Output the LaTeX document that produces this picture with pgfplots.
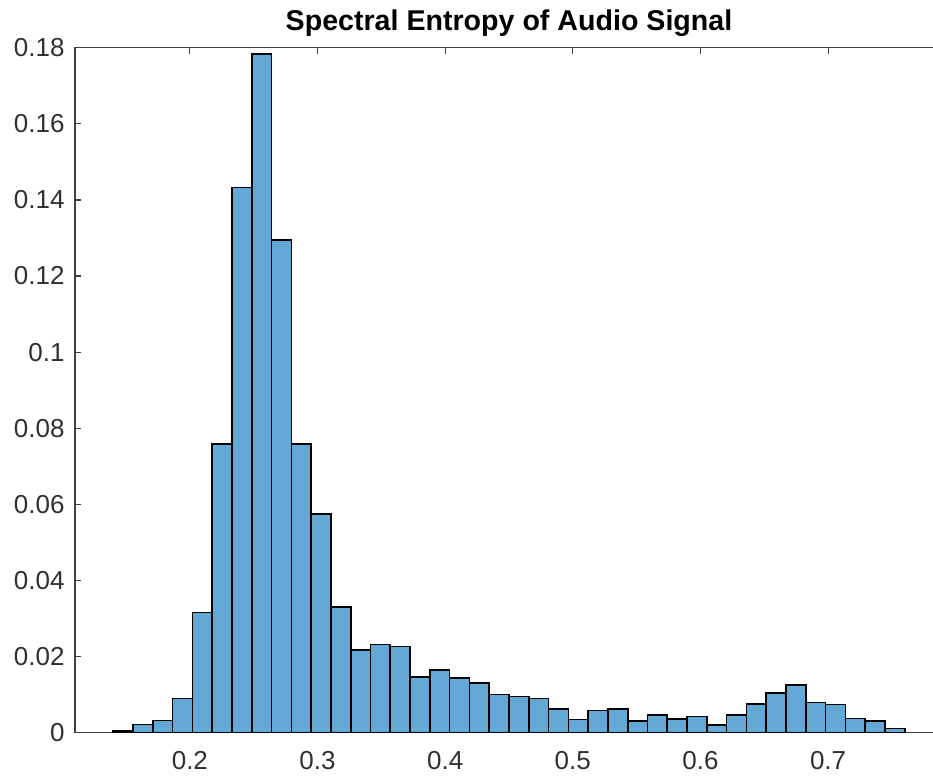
\documentclass[border=0pt]{standalone}
\usepackage{fontspec}
\setmainfont{Liberation Sans}
\usepackage{pgfplots}
\pgfplotsset{compat=1.18}
\definecolor{barfill}{RGB}{100,168,214}
\definecolor{axgray}{RGB}{64,64,64}
\definecolor{labgray}{RGB}{48,48,48}
\begin{document}
\begin{tikzpicture}
\begin{axis}[
  at={(0,0)}, anchor=south west,
  scale only axis, width=434pt, height=342.5pt,
  xmin=0.11, xmax=0.79, ymin=0, ymax=0.18,
  xtick={0.2,0.3,0.4,0.5,0.6,0.7},
  ytick={0,0.02,0.04,0.06,0.08,0.1,0.12,0.14,0.16,0.18},
  /pgf/number format/assume math mode=true,
  /pgf/number format/fixed,
  /pgf/number format/precision=2,
  tick align=inside,
  major tick length=3pt,
  tick style={axgray, line width=0.6pt},
  axis line style={axgray, line width=0.6pt},
  ticklabel style={font=\fontsize{13}{15}\selectfont, text=labgray},
  xticklabel style={yshift=-6pt},
  yticklabel style={xshift=-1.7pt},
  title={Spectral Entropy of Audio Signal},
  every axis title/.style={font=\fontsize{14.3}{17}\selectfont\bfseries, at={(0.5,1)}, anchor=base, yshift=8.8pt},
]
\addplot[ybar interval, fill=barfill, draw=black, line width=0.8pt] coordinates {
(0.14,0.0005) (0.1555,0.0022) (0.171,0.0032) (0.1865,0.0090) (0.202,0.0316)
(0.2175,0.0759) (0.233,0.1433) (0.2485,0.1783) (0.264,0.1295) (0.2795,0.0759)
(0.295,0.0574) (0.3105,0.0331) (0.326,0.0217) (0.3415,0.0232) (0.357,0.0227)
(0.3725,0.0147) (0.388,0.0165) (0.4035,0.0143) (0.419,0.0131) (0.4345,0.0100)
(0.45,0.0095) (0.4655,0.0090) (0.481,0.0063) (0.4965,0.0035) (0.512,0.0058)
(0.5275,0.0063) (0.543,0.0031) (0.5585,0.0047) (0.574,0.0036) (0.5895,0.0043)
(0.605,0.0021) (0.6205,0.0047) (0.636,0.0075) (0.6515,0.0105) (0.667,0.0126)
(0.6825,0.0079) (0.698,0.0074) (0.7135,0.0037) (0.729,0.0031) (0.7445,0.0011)
(0.76,0)
};
\end{axis}
\pgfresetboundingbox
\useasboundingbox (-37.5pt,-21.65pt) rectangle (429pt,366.35pt);
\end{tikzpicture}
\end{document}
